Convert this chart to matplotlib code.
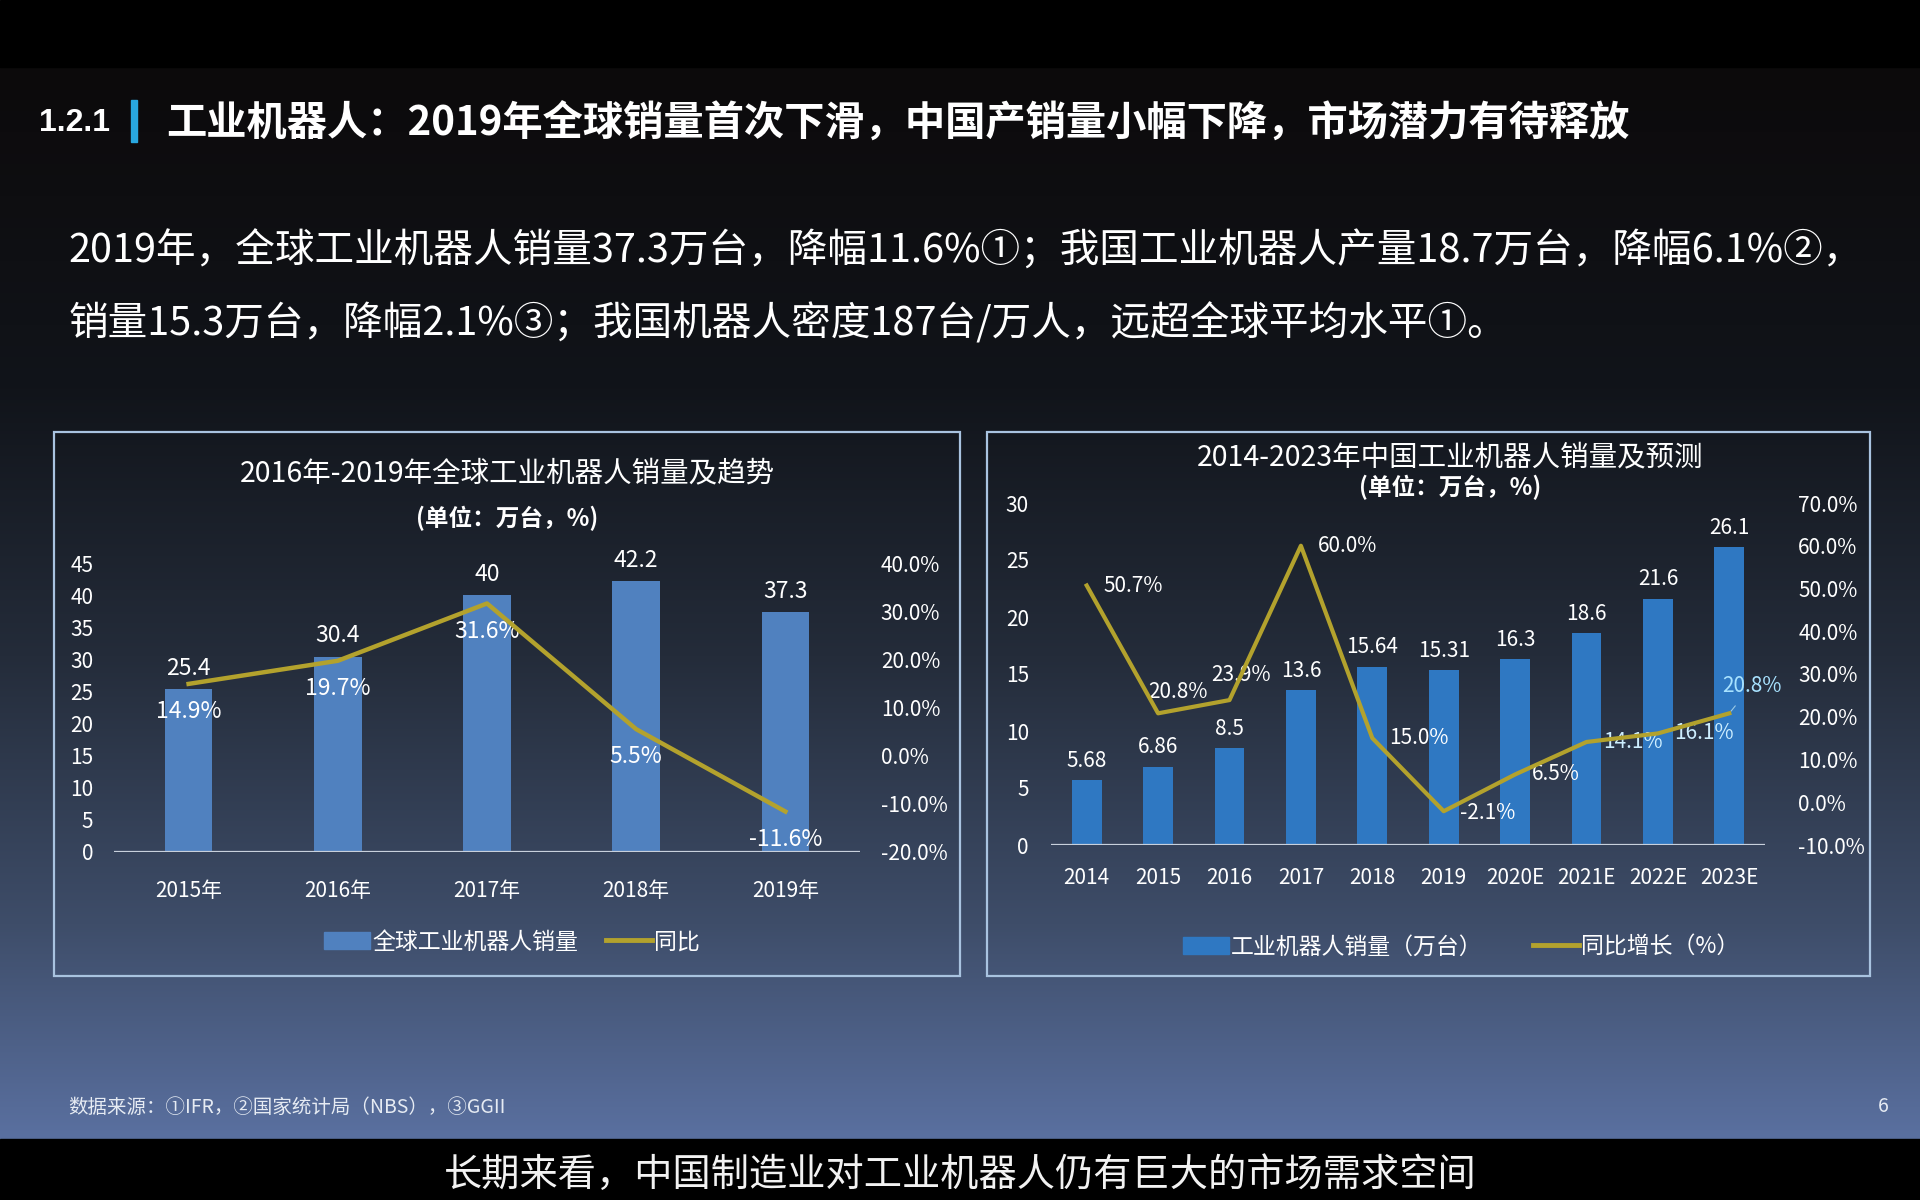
import numpy as np
import matplotlib
matplotlib.use("Agg")
import matplotlib.pyplot as plt
from matplotlib.patches import Rectangle, Patch
from matplotlib.lines import Line2D

plt.rcParams['font.family'] = ['Noto Sans CJK SC', 'DejaVu Sans']

# left chart data
g_years = ["2015年", "2016年", "2017年", "2018年", "2019年"]
g_sales = [25.4, 30.4, 40, 42.2, 37.3]
g_yoy = [14.9, 19.7, 31.6, 5.5, -11.6]

# right chart data
c_years = ["2014", "2015", "2016", "2017", "2018", "2019", "2020E", "2021E", "2022E", "2023E"]
c_sales = [5.68, 6.86, 8.5, 13.6, 15.64, 15.31, 16.3, 18.6, 21.6, 26.1]
c_yoy = [50.7, 20.8, 23.9, 60.0, 15.0, -2.1, 6.5, 14.1, 16.1, 20.8]

W, H = 1920, 1200
fig = plt.figure(figsize=(19.2, 12), dpi=100)

# background in pixel coords
bg = fig.add_axes([0, 0, 1, 1])
bg.set_xlim(0, W)
bg.set_ylim(H, 0)
bg.axis("off")
stops = [0.0, 0.3, 0.55, 0.8, 1.0]
cols = np.array([[12, 10, 11], [17, 20, 26], [36, 44, 58], [62, 77, 105], [90, 112, 160]]) / 255
t = np.linspace(0, 1, 400)
grad = np.stack([np.interp(t, stops, cols[:, i]) for i in range(3)], axis=-1)[:, None, :]
bg.imshow(grad, extent=[0, W, 1139, 67], aspect="auto", zorder=0)
bg.add_patch(Rectangle((0, 0), W, 67, color="black", zorder=1))
bg.add_patch(Rectangle((0, 1139), W, 61, color="black", zorder=1))

# header
bg.text(39, 123, "1.2.1", color="white", fontsize=23, fontweight="bold", va="center",
        family=["Liberation Sans", "DejaVu Sans"])
bg.add_patch(Rectangle((131, 100), 6, 42, color="#29a8e0", zorder=2))
bg.text(166, 124, "工业机器人：2019年全球销量首次下滑，中国产销量小幅下降，市场潜力有待释放",
        color="white", fontsize=29, fontweight="bold", va="center")
bg.text(68, 251, "2019年，全球工业机器人销量37.3万台，降幅11.6%①；我国工业机器人产量18.7万台，降幅6.1%②，",
        color="white", fontsize=28.5, va="center")
bg.text(68, 324, "销量15.3万台，降幅2.1%③；我国机器人密度187台/万人，远超全球平均水平①。",
        color="white", fontsize=28.5, va="center")

# panels
for x0, x1 in [(54, 960), (987, 1870)]:
    bg.add_patch(Rectangle((x0, 432), x1 - x0, 544, fill=False, ec="#a9c3e0", lw=1.6, zorder=2))

# footer
bg.text(68, 1107, "数据来源：①IFR，②国家统计局（NBS），③GGII", color="#e6ebf3", fontsize=14, va="center")
bg.text(1883, 1107, "6", color="#e6ebf3", fontsize=14, va="center", ha="center")
bg.text(960, 1175, "长期来看，中国制造业对工业机器人仍有巨大的市场需求空间", color="#f2f2f2",
        fontsize=27.5, va="center", ha="center")


def px_axes(x0, y0, x1, y1):
    return fig.add_axes([x0 / W, 1 - y1 / H, (x1 - x0) / W, (y1 - y0) / H])


def style(ax):
    ax.set_facecolor("none")
    for s in ax.spines.values():
        s.set_visible(False)
    ax.tick_params(length=0, colors="white")


# ---- left chart ----
bar_c1 = "#5081bf"
line_c = "#b3a22d"
ax1 = px_axes(114, 563, 860, 852)
style(ax1)
x1 = np.arange(len(g_years))
ax1.bar(x1, g_sales, width=0.32, color=bar_c1, zorder=2)
ax1.set_xlim(-0.5, len(g_years) - 0.5)
ax1.set_ylim(0, 45)
ax1.set_yticks(range(0, 46, 5))
ax1.set_xticks(x1)
ax1.set_xticklabels(g_years)
ax1.tick_params(axis="y", labelsize=15, pad=15)
ax1.tick_params(axis="x", labelsize=15, pad=20)
ax1.axhline(0, color="#c8d0dc", lw=1.6, zorder=3)
for xi, v in zip(x1, g_sales):
    ax1.annotate(f"{v:g}", (xi, v), xytext=(0, 15), textcoords="offset points",
                 ha="center", va="center", color="white", fontsize=16.5)
ax1b = ax1.twinx()
style(ax1b)
ax1b.set_ylim(-20, 40)
ax1b.set_yticks(range(-20, 41, 10))
ax1b.set_yticklabels([f"{v:.1f}%" for v in range(-20, 41, 10)])
ax1b.tick_params(axis="y", labelsize=15, pad=15)
ax1b.plot(x1, g_yoy, color=line_c, lw=3.2, zorder=4)
for xi, v in zip(x1, g_yoy):
    ax1b.annotate(f"{v:.1f}%", (xi, v), xytext=(0, -20), textcoords="offset points",
                  ha="center", va="center", color="white", fontsize=16.5)

bg.text(507, 473, "2016年-2019年全球工业机器人销量及趋势", color="white", fontsize=20.5,
        ha="center", va="center")
bg.text(507, 518, "(单位：万台，%)", color="white", fontsize=17, fontweight="bold",
        ha="center", va="center")
fig.legend(handles=[Patch(color=bar_c1, label="全球工业机器人销量"),
                    Line2D([0], [0], color=line_c, lw=3.5, label="同比")],
           loc="center", bbox_to_anchor=(512 / W, 1 - 942 / H), ncol=2, frameon=False,
           fontsize=16.5, labelcolor="white", handlelength=2.0, handletextpad=0.1,
           columnspacing=1.2)

# ---- right chart ----
bar_c2 = "#2f78c2"
ax2 = px_axes(1051, 503, 1765, 845)
style(ax2)
x2 = np.arange(len(c_years))
ax2.bar(x2, c_sales, width=0.42, color=bar_c2, zorder=2)
ax2.set_xlim(-0.5, len(c_years) - 0.5)
ax2.set_ylim(0, 30)
ax2.set_yticks(range(0, 31, 5))
ax2.set_xticks(x2)
ax2.set_xticklabels(c_years)
ax2.tick_params(axis="y", labelsize=15, pad=16)
ax2.tick_params(axis="x", labelsize=15, pad=16)
ax2.axhline(0, color="#c8d0dc", lw=1.6, zorder=3)
for xi, v in zip(x2, c_sales):
    ax2.annotate(f"{v:g}", (xi, v), xytext=(0, 14), textcoords="offset points",
                 ha="center", va="center", color="white", fontsize=15)
ax2b = ax2.twinx()
style(ax2b)
ax2b.set_ylim(-10, 70)
ax2b.set_yticks(range(-10, 71, 10))
ax2b.set_yticklabels([f"{v:.1f}%" for v in range(-10, 71, 10)])
ax2b.tick_params(axis="y", labelsize=15, pad=24)
ax2b.plot(x2, c_yoy, color=line_c, lw=3.0, zorder=4)
offs = [(12, 0), (14, 15), (8, 18), (12, 0), (12, 0), (12, -1), (12, 0), (12, 0), (12, 0), (16, 20)]
for i, (xi, v) in enumerate(zip(x2, c_yoy)):
    dx, dy = offs[i]
    col = "white" if i < 7 else "#cdeeff"
    kw = {}
    if i == len(c_yoy) - 1:
        col = "#a8e2ff"
        kw = dict(arrowprops=dict(arrowstyle="-", color="#9ccbe6", lw=0.8, shrinkA=6, shrinkB=2))
    ha = "left" if dy == 0 or dy == -1 else "center"
    ax2b.annotate(f"{v:.1f}%", (xi, v), xytext=(dx, dy), textcoords="offset points",
                  ha=ha, va="center", color=col, fontsize=15, **kw)

bg.text(1450, 457, "2014-2023年中国工业机器人销量及预测", color="white", fontsize=20.5,
        ha="center", va="center")
bg.text(1450, 487, "(单位：万台，%)", color="white", fontsize=17, fontweight="bold",
        ha="center", va="center")
fig.legend(handles=[Patch(color=bar_c2, label="工业机器人销量（万台）"),
                    Line2D([0], [0], color=line_c, lw=3.5, label="同比增长（%）")],
           loc="center", bbox_to_anchor=(1461 / W, 1 - 947 / H), ncol=2, frameon=False,
           fontsize=16.5, labelcolor="white", handlelength=2.0, handletextpad=0.1,
           columnspacing=2.2)

fig.savefig("out.png", dpi=100)
